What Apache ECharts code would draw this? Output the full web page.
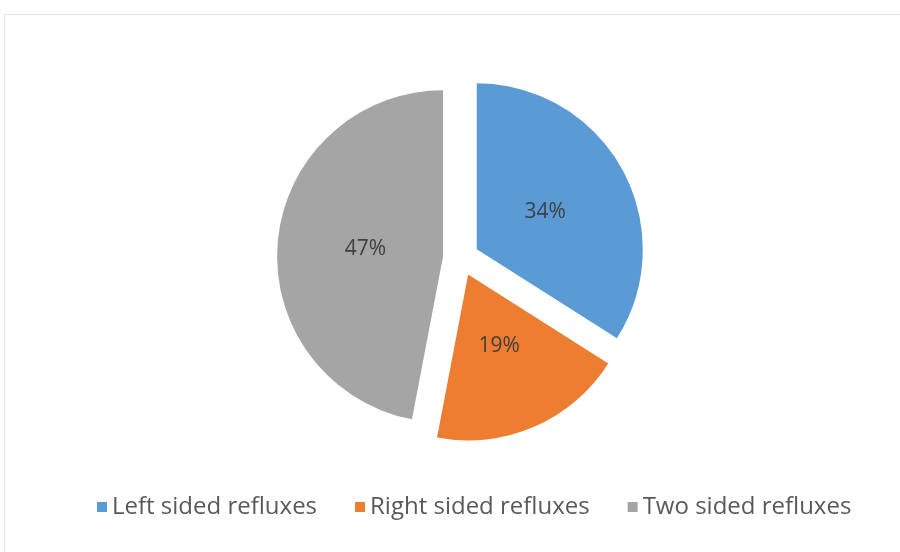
<!DOCTYPE html>
<html><head><meta charset="utf-8">
<script src="https://cdn.jsdelivr.net/npm/echarts@6/dist/echarts.min.js"></script>
<style>
html,body{margin:0;padding:0;background:#fff;}
#frame{position:absolute;left:4px;top:14px;width:910px;height:560px;border:1px solid #e4e4e4;box-sizing:border-box;}
#c{position:absolute;left:0;top:0;width:900px;height:552px;}
</style></head>
<body>
<div id="frame"></div>
<div id="c"></div>
<script>
const categories = ['Left sided refluxes', 'Right sided refluxes', 'Two sided refluxes'];
const values = [34, 19, 47];
const colors = ['#5b9bd5', '#ed7d31', '#a5a5a5'];

const chart = echarts.init(document.getElementById('c'), null, {renderer: 'canvas'});
const common = {
  type: 'pie',
  center: [461, 258],
  startAngle: 90,
  clockwise: true,
  selectedMode: 'multiple',
  selectedOffset: 18,
  labelLine: {show: false},
  emphasis: {disabled: true},
  silent: true
};
chart.setOption({
  animation: false,
  color: colors,
  legend: {
    top: 490,
    left: 92,
    itemWidth: 10,
    itemHeight: 10,
    itemGap: 38,
    icon: 'rect',
    textStyle: {fontFamily: 'Open Sans', fontSize: 24, color: '#595959'},
    data: categories
  },
  series: [
    Object.assign({}, common, {
      name: 'main',
      radius: 166,
      label: {show: false},
      data: categories.map((n, i) => ({name: n, value: values[i], selected: true}))
    }),
    Object.assign({}, common, {
      name: 'labels',
      radius: 150,
      itemStyle: {color: 'rgba(0,0,0,0)'},
      label: {
        show: true,
        position: 'inner',
        formatter: '{c}%',
        fontFamily: 'Open Sans',
        fontSize: 21,
        padding: [8, 0, 0, 0],
        color: '#404040'
      },
      data: categories.map((n, i) => ({name: n, value: values[i], selected: true}))
    })
  ]
});
</script>
</body></html>
